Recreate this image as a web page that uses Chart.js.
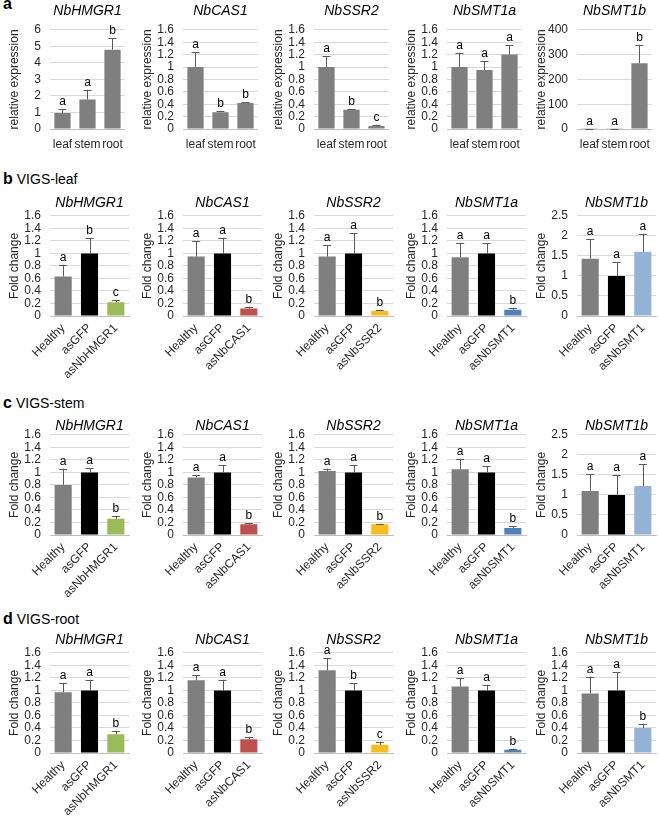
<!DOCTYPE html>
<html>
<head>
<meta charset="UTF-8">
<title>Sterol gene expression and VIGS knock-down</title>
<script src="https://cdn.jsdelivr.net/npm/chart.js@4/dist/chart.umd.min.js"></script>
<style>
body { margin: 0; background: #fff; font-family: "Liberation Sans", Arial, sans-serif; }
#page { position: relative; width: 659px; height: 820px; overflow: hidden; }
.box { position: absolute; }
.lab { position: absolute; left: 3px; font-size: 14px; line-height: 16px; color: #000; white-space: nowrap; }
.lab b { font-size: 16px; margin-right: 4px; }
</style>
</head>
<body>
<div id="page">
  <div class="lab" style="top:-4px"><b>a</b></div>
  <div class="lab" style="top:171px"><b>b</b>VIGS-leaf</div>
  <div class="lab" style="top:395px"><b>c</b>VIGS-stem</div>
  <div class="lab" style="top:611px"><b>d</b>VIGS-root</div>
</div>
<script>
// genes (one column each)
var genes = ["NbHMGR1", "NbCAS1", "NbSSR2", "NbSMT1a", "NbSMT1b"];
var tissueLabels = ["leaf", "stem", "root"];
var vigsLabels = [
  ["Healthy", "asGFP", "asNbHMGR1"],
  ["Healthy", "asGFP", "asNbCAS1"],
  ["Healthy", "asGFP", "asNbSSR2"],
  ["Healthy", "asGFP", "asNbSMT1"],
  ["Healthy", "asGFP", "asNbSMT1"]
];

// a: relative expression in leaf / stem / root
var organMean = [[0.97, 1.78, 4.8], [1.0, 0.27, 0.42], [1.0, 0.31, 0.05], [1.0, 0.95, 1.2], [1, 1, 265]];
var organErr  = [[0.22, 0.6, 0.7], [0.24, 0.02, 0.01], [0.18, 0.01, 0.02], [0.23, 0.14, 0.15], [0.5, 0.5, 75]];
var organSig  = [["a","a","b"], ["a","b","b"], ["a","b","c"], ["a","a","a"], ["a","a","b"]];
var organMax  = [6, 1.6, 1.6, 1.6, 400];
var organStep = [1, 0.2, 0.2, 0.2, 100];

// b: VIGS-leaf fold change
var leafMean = [[0.63, 1.0, 0.22], [0.95, 1.0, 0.12], [0.95, 1.0, 0.08], [0.94, 1.0, 0.1], [1.43, 1.0, 1.6]];
var leafErr  = [[0.19, 0.25, 0.03], [0.24, 0.25, 0.03], [0.18, 0.32, 0.02], [0.22, 0.16, 0.03], [0.49, 0.35, 0.45]];
var leafSig  = [["a","b","c"], ["a","a","b"], ["a","a","b"], ["a","a","b"], ["a","a","a"]];
var leafMax  = [1.6, 1.6, 1.6, 1.6, 2.5];
var leafStep = [0.2, 0.2, 0.2, 0.2, 0.5];

// c: VIGS-stem fold change
var stemMean = [[0.8, 1.0, 0.26], [0.92, 1.0, 0.17], [1.02, 1.0, 0.17], [1.05, 1.0, 0.11], [1.1, 1.0, 1.22]];
var stemErr  = [[0.26, 0.07, 0.04], [0.04, 0.12, 0.02], [0.04, 0.12, 0.01], [0.17, 0.1, 0.03], [0.42, 0.49, 0.54]];
var stemSig  = [["a","a","b"], ["a","a","b"], ["a","a","b"], ["a","a","b"], ["a","a","a"]];
var stemMax  = [1.6, 1.6, 1.6, 1.6, 2.5];
var stemStep = [0.2, 0.2, 0.2, 0.2, 0.5];

// d: VIGS-root fold change
var rootMean = [[0.97, 1.0, 0.3], [1.16, 1.0, 0.22], [1.32, 1.0, 0.13], [1.06, 1.0, 0.05], [0.95, 1.0, 0.4]];
var rootErr  = [[0.15, 0.17, 0.05], [0.08, 0.17, 0.04], [0.2, 0.11, 0.05], [0.13, 0.09, 0.02], [0.27, 0.29, 0.07]];
var rootSig  = [["a","a","b"], ["a","a","b"], ["a","b","c"], ["a","a","b"], ["a","a","b"]];
var rootMax  = [1.6, 1.6, 1.6, 1.6, 1.6];
var rootStep = [0.2, 0.2, 0.2, 0.2, 0.2];

var knockColors = ["#9bbb59", "#c0504d", "#f8bd1c", "#4f81bd", "#95b3d7"];

Chart.defaults.font.family = '"Liberation Sans", Arial, sans-serif';
Chart.defaults.color = "#262626";

// draws the upper whisker and the letter above each bar
var errorBars = {
  id: "errorBars",
  afterDatasetsDraw: function(chart) {
    var ds = chart.data.datasets[0];
    var meta = chart.getDatasetMeta(0);
    var y = chart.scales.y;
    var ctx = chart.ctx;
    ctx.save();
    meta.data.forEach(function(bar, i) {
      var top = y.getPixelForValue(ds.data[i] + ds.errs[i]);
      ctx.strokeStyle = "#595959";
      ctx.lineWidth = 1;
      ctx.beginPath();
      ctx.moveTo(Math.round(bar.x) + 0.5, bar.y);
      ctx.lineTo(Math.round(bar.x) + 0.5, top);
      ctx.moveTo(bar.x - 4, Math.round(top) + 0.5);
      ctx.lineTo(bar.x + 4, Math.round(top) + 0.5);
      ctx.stroke();
      ctx.fillStyle = "#000";
      ctx.font = '12px "Liberation Sans", Arial, sans-serif';
      ctx.textAlign = "center";
      ctx.textBaseline = "alphabetic";
      ctx.fillText(ds.letters[i], bar.x, top - 4);
    });
    ctx.restore();
  }
};

var colLeft = [0, 133, 264, 397, 527];
var rows = [
  {top: 0,   h: 160, titleBottom: 10, xh: 31, mean: organMean, err: organErr, sig: organSig, max: organMax, step: organStep, ytitle: "relative expression", organ: true},
  {top: 192, h: 193, titleBottom: 4,  xh: 69, mean: leafMean, err: leafErr, sig: leafSig, max: leafMax, step: leafStep, ytitle: "Fold change"},
  {top: 415, h: 188, titleBottom: 0,  xh: 68, mean: stemMean, err: stemErr, sig: stemSig, max: stemMax, step: stemStep, ytitle: "Fold change"},
  {top: 629, h: 191, titleBottom: 4,  xh: 67, mean: rootMean, err: rootErr, sig: rootSig, max: rootMax, step: rootStep, ytitle: "Fold change"}
];

var page = document.getElementById("page");
rows.forEach(function(row) {
  genes.forEach(function(gene, g) {
    var box = document.createElement("div");
    box.className = "box";
    box.style.left = colLeft[g] + "px";
    box.style.top = row.top + "px";
    var cv = document.createElement("canvas");
    cv.width = 132;
    cv.height = row.h;
    box.appendChild(cv);
    page.appendChild(box);

    var colors = row.organ ? ["#7f7f7f", "#7f7f7f", "#7f7f7f"] : ["#7f7f7f", "#000000", knockColors[g]];
    new Chart(cv, {
      type: "bar",
      data: {
        labels: row.organ ? tissueLabels : vigsLabels[g],
        datasets: [{
          data: row.mean[g],
          errs: row.err[g],
          letters: row.sig[g],
          backgroundColor: colors,
          barPercentage: 0.65,
          categoryPercentage: 1
        }]
      },
      options: {
        responsive: false,
        animation: false,
        layout: {padding: {left: 0, right: 3, top: 0, bottom: 0}},
        plugins: {
          legend: {display: false},
          tooltip: {enabled: false},
          title: {
            display: true,
            fullSize: false,
            text: gene,
            color: "#000",
            font: {size: 14, style: "italic", weight: "normal"},
            padding: {top: 3, bottom: row.titleBottom}
          }
        },
        scales: {
          x: {
            grid: {display: false, drawTicks: false},
            border: {color: "#bfbfbf"},
            ticks: {
              autoSkip: false,
              color: "#262626",
              font: {size: 12},
              minRotation: row.organ ? 0 : 45,
              maxRotation: row.organ ? 0 : 45,
              padding: row.organ ? 8 : 5
            },
            afterFit: function(s) { s.height = row.xh; }
          },
          y: {
            min: 0,
            max: row.max[g],
            grid: {color: "#d9d9d9", drawTicks: false},
            border: {display: false},
            ticks: {
              autoSkip: false,
              stepSize: row.step[g],
              color: "#262626",
              font: {size: 12},
              padding: 9,
              callback: function(v) { return String(+v.toFixed(2)); }
            },
            title: {display: true, text: row.ytitle, color: "#262626", font: {size: 12}, padding: {top: 7, bottom: 0}},
            afterFit: function(s) { s.width = 50; }
          }
        }
      },
      plugins: [errorBars]
    });
  });
});
</script>
</body>
</html>
